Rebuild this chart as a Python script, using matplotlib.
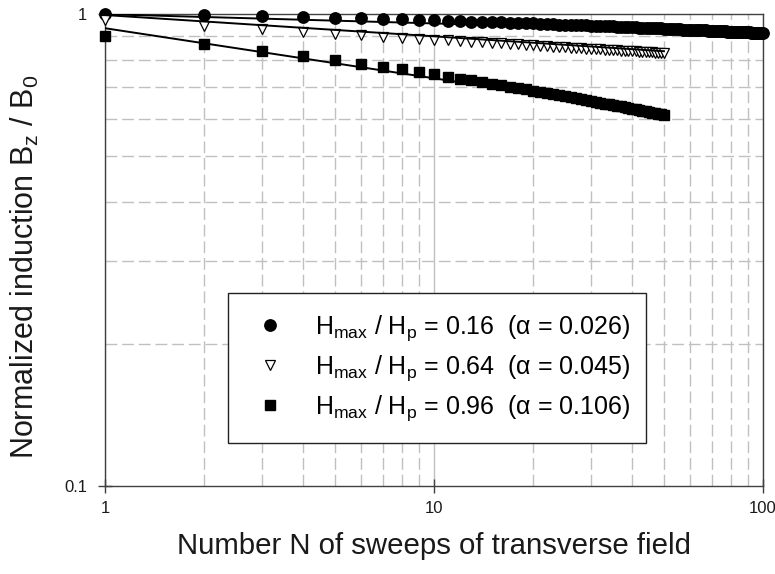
import numpy as np
import matplotlib
matplotlib.use('Agg')
import matplotlib.pyplot as plt
from matplotlib.ticker import LogLocator, NullFormatter

plt.rcParams['font.family'] = ['Liberation Sans', 'DejaVu Sans']
plt.rcParams['mathtext.fontset'] = 'custom'
plt.rcParams['mathtext.rm'] = 'Liberation Sans'
plt.rcParams['mathtext.it'] = 'Liberation Sans:italic'

# sweep numbers
n_long = np.arange(1, 101)
n_short = np.arange(1, 51)

# H_max/H_p = 0.16  (circles)
b_016 = [1.000, 0.994, 0.989, 0.985, 0.982, 0.979, 0.976, 0.974, 0.972, 0.970,
         0.968, 0.966, 0.964, 0.963, 0.961, 0.960, 0.959, 0.957, 0.956, 0.955,
         0.954, 0.953, 0.951, 0.950, 0.949, 0.948, 0.948, 0.947, 0.946, 0.945,
         0.944, 0.943, 0.942, 0.942, 0.941, 0.940, 0.939, 0.939, 0.938, 0.937,
         0.937, 0.936, 0.935, 0.935, 0.934, 0.934, 0.933, 0.932, 0.932, 0.931,
         0.931, 0.930, 0.930, 0.929, 0.929, 0.928, 0.927, 0.927, 0.927, 0.926,
         0.926, 0.925, 0.925, 0.924, 0.924, 0.923, 0.923, 0.922, 0.922, 0.922,
         0.921, 0.921, 0.920, 0.920, 0.919, 0.919, 0.919, 0.918, 0.918, 0.918,
         0.917, 0.917, 0.916, 0.916, 0.916, 0.915, 0.915, 0.915, 0.914, 0.914,
         0.914, 0.913, 0.913, 0.913, 0.912, 0.912, 0.912, 0.911, 0.911, 0.911]

# H_max/H_p = 0.64  (triangles)
b_064 = [0.972, 0.944, 0.929, 0.917, 0.909, 0.902, 0.896, 0.891, 0.887, 0.883,
         0.880, 0.876, 0.873, 0.871, 0.868, 0.866, 0.864, 0.862, 0.860, 0.858,
         0.856, 0.854, 0.853, 0.851, 0.850, 0.848, 0.847, 0.846, 0.845, 0.843,
         0.842, 0.841, 0.840, 0.839, 0.838, 0.837, 0.836, 0.835, 0.834, 0.833,
         0.833, 0.832, 0.831, 0.830, 0.829, 0.829, 0.828, 0.827, 0.826, 0.826]

# H_max/H_p = 0.96  (squares)
b_096 = [0.900, 0.864, 0.836, 0.816, 0.799, 0.785, 0.773, 0.763, 0.754, 0.745,
         0.737, 0.730, 0.724, 0.718, 0.712, 0.707, 0.702, 0.697, 0.693, 0.688,
         0.684, 0.680, 0.677, 0.673, 0.670, 0.666, 0.663, 0.660, 0.657, 0.654,
         0.652, 0.649, 0.646, 0.644, 0.641, 0.639, 0.637, 0.634, 0.632, 0.630,
         0.628, 0.626, 0.624, 0.622, 0.620, 0.618, 0.616, 0.614, 0.613, 0.611]

# power-law fits, end points (straight on log-log)
fit_016_n, fit_016_b = [1, 100], [0.999, 0.913]
fit_064_n, fit_064_b = [1, 50], [0.995, 0.834]
fit_096_n, fit_096_b = [1, 50], [0.933, 0.616]

labels = ['H$_\\mathrm{max}$ / H$_\\mathrm{p}$ = 0.16  (\u03b1 = 0.026)',
          'H$_\\mathrm{max}$ / H$_\\mathrm{p}$ = 0.64  (\u03b1 = 0.045)',
          'H$_\\mathrm{max}$ / H$_\\mathrm{p}$ = 0.96  (\u03b1 = 0.106)']

fig = plt.figure(figsize=(7.75, 5.74), dpi=100)
ax = fig.add_axes([105/775, 88/574, 658/775, 472/574])
ax.set_xscale('log')
ax.set_yscale('log')

# grid
ax.xaxis.set_minor_locator(LogLocator(base=10, subs=np.arange(2, 10)))
ax.yaxis.set_minor_locator(LogLocator(base=10, subs=np.arange(2, 10)))
ax.xaxis.set_minor_formatter(NullFormatter())
ax.yaxis.set_minor_formatter(NullFormatter())
ax.grid(which='minor', color='#c0c0c0', lw=1.0, linestyle=(0, (8.5, 3.5)))
ax.grid(which='major', axis='x', color='#c0c0c0', lw=1.0)
ax.set_axisbelow(True)

ax.plot(n_long, b_016, 'o', color='black', ms=8.2, mec='black', clip_on=False, zorder=3)
ax.plot(n_short, b_064, 'v', color='black', mfc='white', mec='black', mew=0.9, ms=6.5,
        clip_on=False, zorder=3)
ax.plot(n_short, b_096, 's', color='black', ms=7, mec='black', clip_on=False, zorder=3)

ax.plot(fit_016_n, fit_016_b, color='black', lw=1.4, zorder=4)
ax.plot(fit_064_n, fit_064_b, color='black', lw=1.4, zorder=4)
ax.plot(fit_096_n, fit_096_b, color='black', lw=1.4, zorder=4)

ax.set_xlim(1, 100)
ax.set_ylim(0.1, 1)
ax.set_xticks([1, 10, 100])
ax.set_xticklabels(['1', '10', '100'])
ax.set_yticks([0.1, 1])
ax.set_yticklabels(['0.1', '1'])
ax.tick_params(which='major', direction='inout', length=10, width=1, color='#404040',
               labelsize=12, labelcolor='#1a1a1a')
ax.tick_params(axis='x', which='major', pad=6)
ax.tick_params(axis='y', which='major', pad=8)
ax.tick_params(which='minor', length=0)
for s in ax.spines.values():
    s.set_color('#404040')
    s.set_linewidth(1.0)

# legend (markers only)
h1, = ax.plot([], [], 'o', color='black', ms=8.2)
h2, = ax.plot([], [], 'v', color='black', mfc='white', mew=0.9, ms=6.5)
h3, = ax.plot([], [], 's', color='black', ms=7)
leg = ax.legend([h1, h2, h3], labels, loc='center',
                bbox_to_anchor=(0.187, 0.089, 0.635, 0.322), mode='expand',
                borderaxespad=0, fontsize=18, frameon=True, fancybox=False,
                framealpha=1, edgecolor='#222222', borderpad=0.78,
                labelspacing=0.42, handlelength=1.8, handletextpad=0.9)
leg.get_frame().set_linewidth(1.0)

fig.text(434/775, 1 - 546/574, 'Number N of sweeps of transverse field',
         ha='center', va='center', fontsize=21.2, color='#1a1a1a')
fig.text(25/775, 1 - 267/574, 'Normalized induction B$_\\mathrm{z}$ / B$_\\mathrm{0}$',
         ha='center', va='center', rotation=90, fontsize=22, color='#1a1a1a')

fig.savefig('out.png', dpi=100)
